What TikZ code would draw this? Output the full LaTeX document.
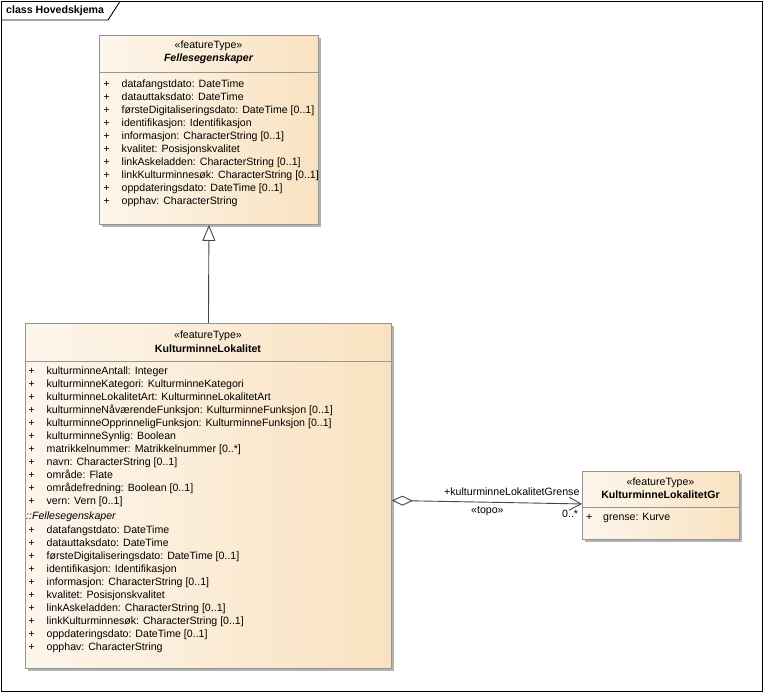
\documentclass[tikz,border=0pt]{standalone}
\usepackage{fontspec}
\setmainfont{Liberation Sans}
\usepackage{xcolor}
\usetikzlibrary{positioning}
\usetikzlibrary{arrows.meta}
\usetikzlibrary{shadows}

\definecolor{boxleft}{RGB}{253,246,236}
\definecolor{boxright}{RGB}{249,226,192}
\definecolor{boxline}{RGB}{150,150,150}
\definecolor{boxshadow}{RGB}{178,178,178}
\definecolor{linkline}{RGB}{70,70,70}
\newcommand{\umlfont}{\fontsize{10.6}{13}\selectfont}
\newcommand{\plus}{\makebox[18pt][l]{+}}

\begin{document}
\begin{tikzpicture}[x=1pt,y=-1pt,
  txt/.style={inner sep=0pt, anchor=base west, font=\umlfont},
  ctxt/.style={inner sep=0pt, anchor=base, font=\umlfont},
  cname/.style={inner sep=0pt, anchor=base, font=\umlfont\bfseries},
  umlbox/.style={rectangle, anchor=north west, inner sep=0pt, draw=boxline, line width=0.9pt,
    left color=boxleft, right color=boxright,
    drop shadow={shadow xshift=2.5pt, shadow yshift=-2.5pt, fill=boxshadow, opacity=1}}]

\useasboundingbox (0,0) rectangle (765,693);

% frame
\draw[black, line width=0.9pt] (1.5,1.5) rectangle (762.5,691);
\draw[black, line width=0.9pt] (1.5,20) -- (108,20) -- (120,1.5);
\node[txt, font=\umlfont\bfseries] (title) at (6,13.5) {class Hovedskjema};

% Fellesegenskaper
\node[umlbox, minimum width=219pt, minimum height=189pt] (felles) at (99,35) {};
\draw[boxline, line width=0.9pt] (99,72) -- (318,72);
\node[ctxt] (felles-st) at (208.5,48.5) {«featureType»};
\node[cname, font=\umlfont\bfseries\itshape] (felles-name) at (208.5,62) {Fellesegenskaper};
\foreach \attr [count=\i] in {{datafangstdato: DateTime},{datauttaksdato: DateTime},
  {førsteDigitaliseringsdato: DateTime [0..1]},{identifikasjon: Identifikasjon},
  {informasjon: CharacterString [0..1]},{kvalitet: Posisjonskvalitet},
  {linkAskeladden: CharacterString [0..1]},{linkKulturminnesøk: CharacterString [0..1]},
  {oppdateringsdato: DateTime [0..1]},{opphav: CharacterString}}
  \node[txt] (fa-\i) at (103.5,74+13*\i) {\plus\attr};

% KulturminneLokalitet
\node[umlbox, minimum width=366pt, minimum height=345pt] (kl) at (25,323) {};
\draw[boxline, line width=0.9pt] (25,361) -- (391,361);
\node[ctxt] (kl-st) at (208,338) {«featureType»};
\node[cname] (kl-name) at (208,352) {KulturminneLokalitet};
\foreach \attr [count=\i] in {{kulturminneAntall: Integer},{kulturminneKategori: KulturminneKategori},
  {kulturminneLokalitetArt: KulturminneLokalitetArt},
  {kulturminneNåværendeFunksjon: KulturminneFunksjon [0..1]},
  {kulturminneOpprinneligFunksjon: KulturminneFunksjon [0..1]},
  {kulturminneSynlig: Boolean},{matrikkelnummer: Matrikkelnummer [0..*]},
  {navn: CharacterString [0..1]},{område: Flate},{områdefredning: Boolean [0..1]},
  {vern: Vern [0..1]}}
  \node[txt] (ka-\i) at (28.5,361+13*\i) {\plus\attr};
\node[txt, font=\umlfont\itshape] (kl-inh) at (26,519) {::Fellesegenskaper};
\foreach \attr [count=\i] in {{datafangstdato: DateTime},{datauttaksdato: DateTime},
  {førsteDigitaliseringsdato: DateTime [0..1]},{identifikasjon: Identifikasjon},
  {informasjon: CharacterString [0..1]},{kvalitet: Posisjonskvalitet},
  {linkAskeladden: CharacterString [0..1]},{linkKulturminnesøk: CharacterString [0..1]},
  {oppdateringsdato: DateTime [0..1]},{opphav: CharacterString}}
  \node[txt] (ki-\i) at (28.5,520+13*\i) {\plus\attr};

% KulturminneLokalitetGr
\node[umlbox, minimum width=157pt, minimum height=68pt] (gr) at (582,471) {};
\draw[boxline, line width=0.9pt] (582,507) -- (739,507);
\node[ctxt] (gr-st) at (660.5,485.5) {«featureType»};
\node[cname] (gr-name) at (660.5,498.5) {KulturminneLokalitetGr};
\node[txt] (ga-1) at (586,520.5) {\makebox[17pt][l]{+}grense: Kurve};

% connectors
\draw[linkline, line width=0.9pt, -{Triangle[open, length=16pt, width=13pt, fill=white]}]
  (kl.north) -- (felles.south);
\draw[linkline, line width=0.9pt,
  {Diamond[open, length=21pt, width=10pt, fill=white]}-{Straight Barb[length=12pt, width=13pt]}]
  ([yshift=-4.5pt]kl.east) -- ([yshift=1.5pt]gr.west);

% labels
\node[txt] (role) at (444,495) {+kulturminneLokalitetGrense};
\node[txt] (topo) at (471,513) {«topo»};
\node[txt] (mult) at (562,517) {0..*};

\end{tikzpicture}
\end{document}
